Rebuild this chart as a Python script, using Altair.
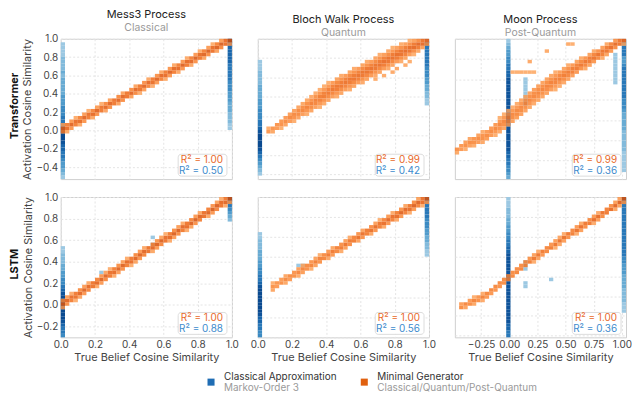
import altair as alt
import numpy as np
import pandas as pd

# ---------------- text ----------------
PROCESSES = ["Mess3 Process", "Bloch Walk Process", "Moon Process"]
PROCESS_KIND = ["Classical", "Quantum", "Post-Quantum"]
MODELS = ["Transformer", "LSTM"]
R2_MINIMAL = [["1.00", "0.99", "0.99"], ["1.00", "1.00", "1.00"]]
R2_CLASSICAL = [["0.50", "0.42", "0.36"], ["0.88", "0.56", "0.36"]]
LEGEND_NAMES = ["Classical Approximation", "Minimal Generator"]
LEGEND_SUBS = ["Markov-Order 3", "Classical/Quantum/Post-Quantum"]
X_TITLE = "True Belief Cosine Similarity"
Y_TITLE = "Activation Cosine Similarity"

# ---------------- axes ----------------
X_DOMAINS = [[0.0, 1.0], [0.0, 1.0], [-0.483, 1.037]]
Y_DOMAINS = [[[-0.53, 1.0], [-0.45, 1.0], [-0.73, 1.0]],
             [[-0.30, 1.0], [-0.40, 1.0], [-0.77, 1.0]]]
TICKS_FIFTHS = [-0.4, -0.2, 0.0, 0.2, 0.4, 0.6, 0.8, 1.0]
TICKS_QUARTERS = [-0.75, -0.5, -0.25, 0.0, 0.25, 0.5, 0.75, 1.0]
N_BINS = 40

# ---------------- classical approximation (blue) ----------------
# each stripe: x value of the column, shade level 0-9 per y bin (bottom -> top)
BLUE_STRIPES = {
    (0, 0): [(0.0, "1234456677" "8999876655" "5444333332" "3222211110"),
             (1.0, "0000000000" "0000112223" "3344455566" "6667777788")],
    (0, 1): [(0.0, "0123456789" "9998766555" "4443333222" "2111000000"),
             (1.0, "0000000000" "0000000000" "0112233445" "5566666650")],
    (0, 2): [(0.0, "3455667788" "8888888888" "8888888887" "7665544321"),
             (1.0, "0011111122" "2222333334" "5556666666" "6654466650"),
             (0.95, "0000000000" "0000000000" "0000000111" "1111110000"),
             (0.15, "0000000000" "0000000000" "0111111110" "0000000000")],
    (1, 0): [(0.0, "5667899999" "9987655443" "3222110000" "0000000000"),
             (1.0, "0000000000" "0000000000" "0000000000" "0002345667")],
    (1, 1): [(0.0, "5566778999" "9999876655" "4433322211" "0000000000"),
             (1.0, "0000000000" "0000000000" "0001122334" "4555666666")],
    (1, 2): [(0.0, "6677888888" "8888888888" "8888776655" "4433222111"),
             (1.0, "0000000111" "2222333344" "4556666666" "6666666666"),
             (0.15, "0000000000" "0000110001" "1100000000" "0000000000")],
}
BLUE_EXTRA = {
    (1, 0): [(0.227, 0.29, 1), (0.545, 0.62, 1), (0.545, 0.55, 1)],
    (1, 1): [(0.24, 0.30, 1), (0.27, 0.33, 1)],
    (1, 2): [(0.37, -0.04, 1)],
}

# ---------------- minimal generator (orange) ----------------
# band path: x, centre y, half-thickness, peak shade
BANDS = {
    (0, 0): ([0.0, 0.5, 1.0], [0.0, 0.5, 1.0], [0.03, 0.03, 0.03], [0.85, 0.85, 0.95]),
    (0, 1): ([0.06, 0.15, 0.30, 0.44, 0.63, 0.82, 0.95, 1.0],
             [0.04, 0.14, 0.31, 0.48, 0.66, 0.84, 0.95, 0.99],
             [0.025, 0.035, 0.05, 0.06, 0.06, 0.055, 0.04, 0.025],
             [0.40, 0.50, 0.60, 0.70, 0.75, 0.78, 0.85, 0.95]),
    (0, 2): ([-0.48, -0.35, -0.21, -0.06, 0.08, 0.22, 0.37, 0.51, 0.65, 0.80, 0.94, 1.03],
             [-0.38, -0.28, -0.20, -0.04, 0.11, 0.30, 0.45, 0.57, 0.69, 0.81, 0.93, 0.99],
             [0.03, 0.04, 0.05, 0.06, 0.07, 0.07, 0.07, 0.06, 0.05, 0.045, 0.04, 0.025],
             [0.45, 0.50, 0.50, 0.55, 0.55, 0.55, 0.60, 0.65, 0.70, 0.75, 0.80, 0.95]),
    (1, 0): ([0.0, 1.0], [0.0, 1.0], [0.025, 0.025], [0.85, 0.95]),
    (1, 1): ([0.078, 0.30, 0.60, 1.0], [0.094, 0.315, 0.615, 1.0],
             [0.028, 0.028, 0.028, 0.028], [0.45, 0.60, 0.75, 0.95]),
    (1, 2): ([-0.44, -0.21, -0.01, 0.165, 0.37, 0.51, 0.80, 0.94, 1.03],
             [-0.39, -0.245, -0.02, 0.18, 0.37, 0.51, 0.76, 0.89, 0.99],
             [0.03] * 9,
             [0.55, 0.60, 0.65, 0.70, 0.70, 0.75, 0.80, 0.85, 0.95]),
}
ORANGE_EXTRA = {
    (0, 1): [(0.70, 0.60, 0.18), (0.74, 0.62, 0.20), (0.78, 0.66, 0.22),
             (0.82, 0.70, 0.22), (0.86, 0.74, 0.20), (0.89, 0.78, 0.18)],
    (0, 2): [(0.02, 0.60, 0.16), (0.06, 0.61, 0.16), (0.10, 0.60, 0.18),
             (0.14, 0.61, 0.16), (0.18, 0.60, 0.16), (0.22, 0.60, 0.15),
             (0.19, 0.73, 0.22), (0.32, 0.83, 0.20), (0.52, 0.93, 0.20),
             (0.57, 0.95, 0.16)],
}

BLUE_TEXT = "#3d8bcd"
ORANGE_TEXT = "#e8692a"
BLUE_KEY = "#1f6db4"
ORANGE_KEY = "#e0600f"
FONT = "Inter"
W, H = 172, 141


def cells(r, c):
    x0, x1 = X_DOMAINS[c]
    y0, y1 = Y_DOMAINS[r][c]
    xe = np.linspace(x0, x1, N_BINS + 1)
    ye = np.linspace(y0, y1, N_BINS + 1)
    dx = (x1 - x0) / N_BINS
    dy = (y1 - y0) / N_BINS
    xc = (xe[:-1] + xe[1:]) / 2
    yc = (ye[:-1] + ye[1:]) / 2

    def xb(v):
        return int(min(max((v - x0) / dx, 0), N_BINS - 1))

    def yb(v):
        return int(min(max((v - y0) / dy, 0), N_BINS - 1))

    blue = {}
    for xv, levels in BLUE_STRIPES[(r, c)]:
        i = xb(xv)
        for j, ch in enumerate(levels):
            if ch != "0":
                blue[(i, j)] = max(blue.get((i, j), 0), int(ch))
    for xv, yv, lv in BLUE_EXTRA.get((r, c), []):
        blue[(xb(xv), yb(yv))] = lv

    orange = {}
    bx, by, bw, bp = BANDS[(r, c)]
    for i in range(N_BINS):
        if xc[i] < bx[0] - dx / 2 or xc[i] > bx[-1] + dx / 2:
            continue
        cy = np.interp(xc[i], bx, by)
        w = np.interp(xc[i], bx, bw)
        pk = np.interp(xc[i], bx, bp)
        for j in range(N_BINS):
            v = pk * np.exp(-0.5 * ((yc[j] - cy) / w) ** 2)
            if v >= 0.15:
                orange[(i, j)] = v
    for xv, yv, v in ORANGE_EXTRA.get((r, c), []):
        k = (xb(xv), yb(yv))
        orange[k] = max(orange.get(k, 0), v)

    bdf = pd.DataFrame([{"x": xe[i], "x2": xe[i + 1], "y": ye[j], "y2": ye[j + 1], "lvl": l}
                        for (i, j), l in blue.items()])
    odf = pd.DataFrame([{"x": xe[i], "x2": xe[i + 1], "y": ye[j], "y2": ye[j + 1], "v": v}
                        for (i, j), v in orange.items()])
    return bdf, odf


def panel(r, c):
    bdf, odf = cells(r, c)
    xd = X_DOMAINS[c]
    yd = Y_DOMAINS[r][c]
    xt = [t for t in (TICKS_QUARTERS if c == 2 else TICKS_FIFTHS) if xd[0] <= t <= xd[1]]
    yt = [t for t in (TICKS_QUARTERS if c == 2 else TICKS_FIFTHS) if yd[0] <= t <= yd[1]]
    xs = alt.Scale(domain=xd, nice=False, zero=False, padding=0)
    ys = alt.Scale(domain=yd, nice=False, zero=False, padding=0)
    if r == 1:
        xa = alt.Axis(values=xt, format=".2f" if c == 2 else ".1f", title=X_TITLE,
                      labelPadding=2, titlePadding=2, labelFlush=False)
    else:
        xa = alt.Axis(values=xt, labels=False, title=None)
    if c == 0:
        ya = alt.Axis(values=yt, format=".1f", title=Y_TITLE, labelPadding=3, titlePadding=3,
                      labelFlush=False)
    else:
        ya = alt.Axis(values=yt, labels=False, title=None)

    enc = dict(x=alt.X("x:Q", scale=xs, axis=xa), x2="x2:Q",
               y=alt.Y("y:Q", scale=ys, axis=ya), y2="y2:Q")
    blue = alt.Chart(bdf).mark_rect(strokeWidth=0).encode(
        color=alt.Color("lvl:Q", scale=alt.Scale(scheme="blues", domain=[-1.5, 8.5], clamp=True),
                        legend=None),
        **enc)
    orange = alt.Chart(odf).mark_rect(strokeWidth=0, opacity=0.85).encode(
        fill=alt.Fill("v:Q", scale=alt.Scale(scheme="oranges", domain=[-0.35, 1.3]), legend=None),
        **enc)

    one = pd.DataFrame({"a": [0]})
    box = alt.Chart(one).mark_rect(fill="white", fillOpacity=0.9, stroke="#dcdcdc",
                                   strokeWidth=1, cornerRadius=3).encode(
        x=alt.value(W - 54), x2=alt.value(W - 5), y=alt.value(H - 25), y2=alt.value(H - 3))
    t1 = alt.Chart(pd.DataFrame({"t": ["R² = " + R2_MINIMAL[r][c]]})).mark_text(
        align="right", baseline="middle", fontSize=10, font=FONT, color=ORANGE_TEXT).encode(
        text="t:N", x=alt.value(W - 9), y=alt.value(H - 19.5))
    t2 = alt.Chart(pd.DataFrame({"t": ["R² = " + R2_CLASSICAL[r][c]]})).mark_text(
        align="right", baseline="middle", fontSize=10, font=FONT, color=BLUE_TEXT).encode(
        text="t:N", x=alt.value(W - 9), y=alt.value(H - 8.5))
    layers = [blue, orange, box, t1, t2]

    if c == 0:
        layers.append(alt.Chart(pd.DataFrame({"t": [MODELS[r]]})).mark_text(
            angle=270, align="center", baseline="middle", fontSize=11, fontWeight="bold",
            font=FONT, color="#111").encode(
            text="t:N", x=alt.value(-46), y=alt.value(H / 2 - 3)))

    if r == 1 and c == 1:
        keys = [(W / 2 - 133, BLUE_KEY), (W / 2 + 21, ORANGE_KEY)]
        for k, (dxp, col) in enumerate(keys):
            layers.append(alt.Chart(one).mark_square(size=50, color=col, opacity=1).encode(
                x=alt.value(dxp), y=alt.value(H + 45)))
            layers.append(alt.Chart(pd.DataFrame({"t": [LEGEND_NAMES[k]]})).mark_text(
                align="left", baseline="middle", fontSize=10, font=FONT, color="#333").encode(
                text="t:N", x=alt.value(dxp + 13), y=alt.value(H + 40)))
            layers.append(alt.Chart(pd.DataFrame({"t": [LEGEND_SUBS[k]]})).mark_text(
                align="left", baseline="middle", fontSize=10, font=FONT, color="#9a9a9a").encode(
                text="t:N", x=alt.value(dxp + 13), y=alt.value(H + 50.5)))

    props = dict(width=W, height=H)
    if r == 0:
        props["title"] = alt.TitleParams(
            text=PROCESSES[c], subtitle=PROCESS_KIND[c], anchor="middle", frame="group",
            fontSize=11, fontWeight="normal", color="#222", font=FONT,
            subtitleFontSize=10.5, subtitleColor="#9a9a9a", subtitleFont=FONT,
            subtitlePadding=3, offset=0)
    return alt.layer(*layers).properties(**props)


panels = [panel(r, c) for r in range(2) for c in range(3)]

chart = alt.concat(*panels, columns=3, spacing={"row": 18, "column": 26},
                   bounds="flush", padding=0).resolve_scale(
    x="independent", y="independent"
).configure_view(
    stroke="#cfcfcf", strokeWidth=1
).configure_axis(
    grid=True, gridColor="#e4e4e4", gridDash=[2, 2], gridWidth=1,
    domain=False, ticks=False, labelFont=FONT, labelFontSize=10, labelColor="#444",
    titleFont=FONT, titleFontSize=11, titleFontWeight="normal", titleColor="#444"
)

chart.save("out.html", embed_options={"renderer": "svg", "actions": False})
